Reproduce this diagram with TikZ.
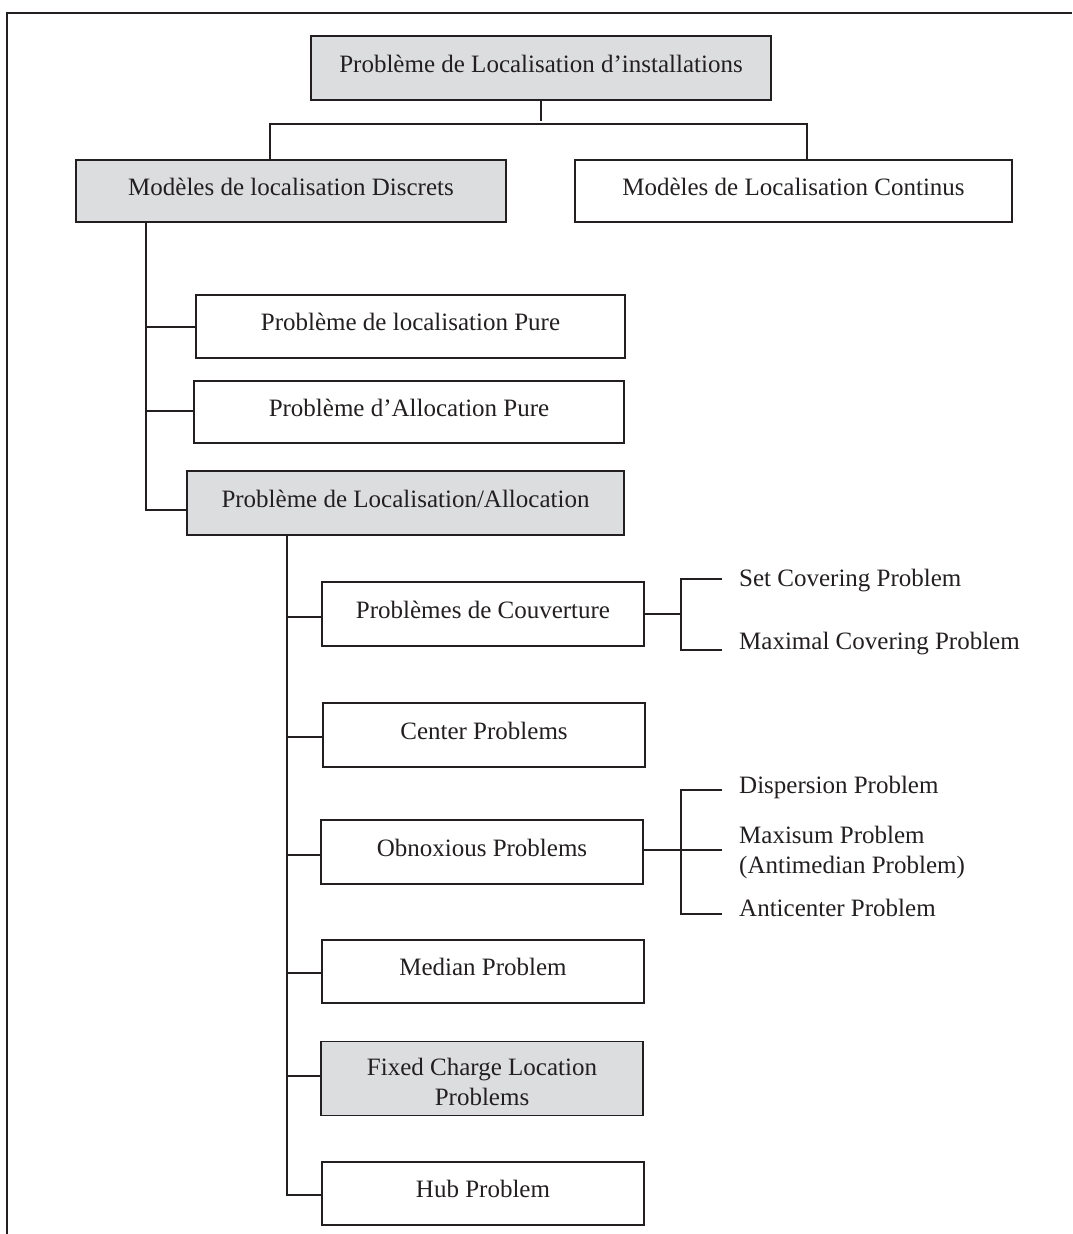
\documentclass[tikz,border=0pt]{standalone}
\usepackage{fontspec}
\setmainfont{Liberation Serif}
\definecolor{boxgray}{RGB}{220,221,223}
\definecolor{linec}{RGB}{35,31,32}
\begin{document}
\begin{tikzpicture}[x=1pt,y=-1pt,
  box/.style={draw=linec,line width=1.8pt,rectangle,inner sep=0pt,align=center,
    font=\fontsize{25}{30}\selectfont,text=linec,text height=17pt,text depth=9pt},
  gbox/.style={box,fill=boxgray},
  leaf/.style={anchor=west,inner sep=0pt,align=left,font=\fontsize{25}{30}\selectfont,text=linec,
    text height=17pt,text depth=5.5pt},
  conn/.style={draw=linec,line width=1.8pt},
  frame/.style={draw=linec,line width=2.2pt}]
\useasboundingbox (0,0) rectangle (1072,1234);
\coordinate (fa) at (7,1234);
\coordinate (fb) at (7,13);
\coordinate (fc) at (1072,13);
\draw[frame] (fa) -- (fb) -- (fc);

\node[gbox,minimum width=460pt,minimum height=64pt] (top) at (541,68) {Problème de Localisation d’installations};
\node[gbox,minimum width=430pt,minimum height=62pt] (disc) at (291,191) {Modèles de localisation Discrets};
\node[box,minimum width=437pt,minimum height=62pt] (cont) at (793.5,191) {Modèles de Localisation Continus};
\node[box,minimum width=429pt,minimum height=63pt] (pure) at (410.5,326.5) {Problème de localisation Pure};
\node[box,minimum width=430pt,minimum height=62pt] (alloc) at (409,412) {Problème d’Allocation Pure};
\node[gbox,minimum width=437pt,minimum height=64pt] (la) at (405.5,503) {Problème de Localisation/Allocation};
\node[box,minimum width=322pt,minimum height=64pt] (couv) at (483,614) {Problèmes de Couverture};
\node[box,minimum width=322pt,minimum height=64pt] (cent) at (484,735) {Center Problems};
\node[box,minimum width=322pt,minimum height=64pt] (obn) at (482,852) {Obnoxious Problems};
\node[box,minimum width=322pt,minimum height=63pt] (med) at (483,971.5) {Median Problem};
\node[gbox,minimum width=322pt,minimum height=74pt,text height=54pt,text depth=0pt] (fix) at (482,1078.5) {Fixed Charge Location\\Problems};
\node[box,minimum width=322pt,minimum height=63pt] (hub) at (483,1193.5) {Hub Problem};

\node[leaf] (set) at (739,581) {Set Covering Problem};
\node[leaf] (maxc) at (739,644) {Maximal Covering Problem};
\node[leaf] (disp) at (739,788) {Dispersion Problem};
\node[leaf,text height=,text depth=] (maxi) at (739,852) {Maxisum Problem\\(Antimedian Problem)};
\node[leaf] (anti) at (739,911) {Anticenter Problem};

% top level
\coordinate (j0) at (541,124);
\coordinate (jl) at (270,124);
\coordinate (jr) at (807,124);
\draw[conn] (top.south) -- ([yshift=3pt]j0);
\draw[conn] (disc.north -| jl) -- (jl) -- (jr) -- (cont.north -| jr);

% trunk 1
\coordinate (t1) at (146,510);
\draw[conn] (disc.south -| t1) -- (t1) -- (t1 -| la.west);
\draw[conn] (t1 |- 0,327) -- (pure.west |- 0,327);
\draw[conn] (t1 |- 0,411) -- (alloc.west |- 0,411);

% trunk 2
\coordinate (t2) at (287,1195);
\draw[conn] (la.south -| t2) -- (t2) -- (t2 -| hub.west);
\draw[conn] (t2 |- 0,617) -- (couv.west |- 0,617);
\draw[conn] (t2 |- 0,737) -- (cent.west |- 0,737);
\draw[conn] (t2 |- 0,855) -- (obn.west |- 0,855);
\draw[conn] (t2 |- 0,973) -- (med.west |- 0,973);
\draw[conn] (t2 |- 0,1076) -- (fix.west |- 0,1076);

% couverture sub
\coordinate (c1) at (681,614);
\coordinate (c1t) at (681,579);
\coordinate (c1b) at (681,650);
\draw[conn] (couv.east |- c1) -- (c1);
\draw[conn] ([xshift=-17pt]set.west |- c1t) -- (c1t) -- (c1b) -- ([xshift=-17pt]maxc.west |- c1b);

% obnoxious sub
\coordinate (o1) at (681,850);
\coordinate (o1t) at (681,790);
\coordinate (o1b) at (681,914);
\draw[conn] (obn.east |- o1) -- ([xshift=-17pt]maxi.west |- o1);
\draw[conn] ([xshift=-17pt]disp.west |- o1t) -- (o1t) -- (o1b) -- ([xshift=-17pt]anti.west |- o1b);
\end{tikzpicture}
\end{document}
